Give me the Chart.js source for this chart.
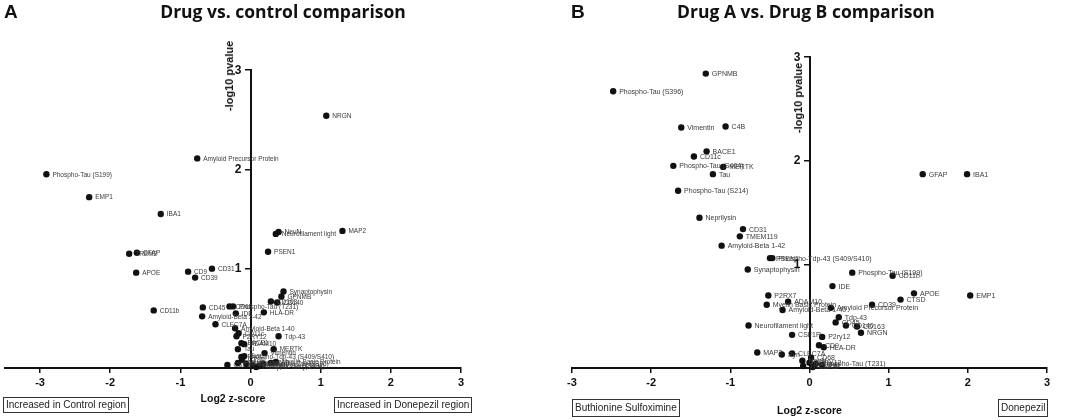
<!DOCTYPE html>
<html>
<head>
<meta charset="utf-8">
<script src="https://cdn.jsdelivr.net/npm/chart.js@4.4.1/dist/chart.umd.min.js"></script>
<style>
  html,body{margin:0;padding:0;background:#fff;}
  body{width:1072px;height:420px;position:relative;overflow:hidden;font-family:Arial,"Liberation Sans",sans-serif;color:#111;}
  .panel{position:absolute;top:0;width:536px;height:420px;}
  .panel canvas{position:absolute;left:0;top:0;}
  .letter{position:absolute;top:1px;font:bold 19px Arial,"Liberation Sans",sans-serif;}
  .title{position:absolute;top:-1px;font:bold 17.5px "Open Sans",sans-serif;white-space:nowrap;transform:translateX(-50%);}
  .ylab{position:absolute;font:bold 11px Arial,"Liberation Sans",sans-serif;white-space:nowrap;transform:translate(-50%,-50%) rotate(-90deg);}
  .box{position:absolute;border:1px solid #333;font:10px Arial,"Liberation Sans",sans-serif;line-height:14px;padding:0 2px;white-space:nowrap;color:#222;}
</style>
</head>
<body>
<div class="panel" style="left:0">
  <canvas id="chartA" width="536" height="420"></canvas>
</div>
<div class="panel" style="left:536px">
  <canvas id="chartB" width="536" height="420"></canvas>
</div>
<div class="letter" style="left:4px">A</div>
<div class="letter" style="left:571px">B</div>
<div class="title" style="left:283px">Drug vs. control comparison</div>
<div class="title" style="left:806px">Drug A vs. Drug B comparison</div>
<div class="ylab" style="left:229px;top:76px">-log10 pvalue</div>
<div class="ylab" style="left:798px;top:98px">-log10 pvalue</div>
<div class="box" style="left:3px;top:397px">Increased in Control region</div>
<div class="box" style="left:334px;top:397px">Increased in Donepezil region</div>
<div class="box" style="left:572px;top:399px;line-height:16px">Buthionine Sulfoximine</div>
<div class="box" style="left:998px;top:399px;line-height:16px">Donepezil</div>

<script>
const xTicks = [-3,-2,-1,0,1,2,3];
const yTicks = [0,1,2,3];

// panel A: drug vs control
const aNames = ["NRGN","Amyloid Precursor Protein","Phospho-Tau (S199)","EMP1","IBA1","MAP2","NeuN","Neurofilament light","PSEN1",
  "TREM2","GFAP","APOE","CD9","CD31","CD39","Synaptophysin","GPNMB","CD163","CD140","CD11b","CD45","CD68","Phospho-Tau (T231)",
  "HLA-DR","IDE","Amyloid-Beta 1-42","CLEC7A","Amyloid-Beta 1-40","Tdp-43","CD11c","P2RY12","BACE1","ADAM10","Tau","Vimentin",
  "MERTK","Phospho-Tdp-43 (S409/S410)","Syn","CSF1R","P2RX7","TMEM119","Neprilysin","Phospho-Tau (S396)","C4B","Myelin Basic Protein",
  "Phospho-Tau (S214)","CTSD","Phospho-Tau (S404)"];
const aX = [1.08,-0.76,-2.91,-2.30,-1.28,1.31,0.40,0.36,0.25,
  -1.73,-1.62,-1.63,-0.89,-0.55,-0.79,0.47,0.44,0.29,0.38,-1.38,-0.68,-0.30,-0.25,
  0.19,-0.21,-0.69,-0.50,-0.22,0.40,-0.17,-0.20,-0.13,-0.09,-0.18,0.20,
  0.33,-0.13,-0.09,-0.33,-0.18,-0.06,0.03,0.18,0.29,0.36,
  0.08,-0.12,0.12];
const aY = [2.54,2.11,1.95,1.72,1.55,1.38,1.37,1.35,1.17,
  1.15,1.16,0.96,0.97,1.00,0.91,0.77,0.72,0.67,0.66,0.58,0.61,0.62,0.62,
  0.56,0.55,0.52,0.44,0.40,0.32,0.35,0.32,0.25,0.24,0.19,0.15,
  0.19,0.11,0.12,0.03,0.05,0.04,0.03,0.04,0.05,0.06,
  0.01,0.08,0.02];

// panel B: drug A vs drug B
const bNames = ["GPNMB","Phospho-Tau (S396)","Vimentin","C4B","BACE1","CD11c","Phospho-Tau (S404)","MERTK","Tau","Phospho-Tau (S214)",
  "GFAP","IBA1","Neprilysin","CD31","TMEM119","Amyloid-Beta 1-42","PSEN1","Phospho-Tdp-43 (S409/S410)","Synaptophysin",
  "Phospho-Tau (S199)","CD11b","IDE","APOE","EMP1","CTSD","P2RX7","ADAM10","Myelin Basic Protein","Amyloid-Beta 1-40","CD39",
  "Amyloid Precursor Protein","Tdp-43","CD45","CD140","CD163","NRGN","Neurofilament light","CSF1R","P2ry12","CD9","HLA-DR",
  "MAP2","Syn","CLEC7A","NeuN","CD68","TREM2","Phospho-Tau (T231)","P2RY12","Tdp","CDK5"];
const bX = [-1.31,-2.48,-1.62,-1.06,-1.30,-1.46,-1.72,-1.09,-1.22,-1.66,
  1.43,1.99,-1.39,-0.84,-0.88,-1.11,-0.50,-0.47,-0.78,
  0.54,1.05,0.29,1.32,2.03,1.15,-0.52,-0.27,-0.54,-0.34,0.79,
  0.27,0.37,0.33,0.46,0.60,0.65,-0.77,-0.22,0.16,0.12,0.18,
  -0.66,-0.35,-0.22,-0.09,0.02,-0.08,0.08,0.00,0.16,0.04];
const bY = [2.84,2.67,2.32,2.33,2.09,2.04,1.95,1.94,1.87,1.71,
  1.87,1.87,1.45,1.34,1.27,1.18,1.06,1.06,0.95,
  0.92,0.89,0.79,0.72,0.70,0.66,0.70,0.64,0.61,0.56,0.61,
  0.58,0.49,0.44,0.41,0.40,0.34,0.41,0.32,0.30,0.22,0.20,
  0.15,0.13,0.14,0.07,0.10,0.02,0.04,0.05,0.03,0.01];

const pointLabels = {
  id:'pointLabels',
  afterDatasetsDraw(chart, args, opts){
    const ctx = chart.ctx;
    const meta = chart.getDatasetMeta(0);
    const names = chart.data.datasets[0].names;
    ctx.save();
    ctx.font = opts.font; ctx.fillStyle = opts.color; ctx.textBaseline = 'middle'; ctx.textAlign = 'left';
    meta.data.forEach((pt,i)=> ctx.fillText(names[i], pt.x + 6, pt.y + 0.5));
    ctx.restore();
  }
};

// y tick labels sit to the left of the centred axis
const yTickLabels = {
  id:'yTickLabels',
  afterDraw(chart, args, opts){
    const {ctx, scales:{x, y}} = chart;
    const ax = x.getPixelForValue(0);
    ctx.save();
    ctx.font = 'bold 12px Arial'; ctx.fillStyle = '#111'; ctx.textAlign = 'right'; ctx.textBaseline = 'middle';
    yTicks.filter(v=>v!==0).forEach(v=> ctx.fillText(String(v), ax - opts.gap, y.getPixelForValue(v) + 0.5));
    ctx.restore();
  }
};

function volcano(canvas, names, xs, ys, cfg){
  const pts = xs.map((x,i)=>({x, y:ys[i]}));
  return new Chart(canvas, {
    type:'scatter',
    data:{datasets:[{data:pts, names, pointRadius:3.2, pointBackgroundColor:'#111', pointBorderWidth:0, clip:false}]},
    plugins:[pointLabels, yTickLabels],
    options:{
      responsive:false, animation:false, events:[],
      layout:{padding:cfg.padding},
      plugins:{legend:{display:false}, tooltip:{enabled:false},
        pointLabels:{font:cfg.labelFont, color:'#3a3a3a'}, yTickLabels:{gap:cfg.yGap}},
      scales:{
        x:{type:'linear', min:cfg.xMin, max:3, position:'bottom',
          afterBuildTicks: s=>{ s.ticks = xTicks.map(v=>({value:v})); },
          afterFit: s=>{ s.height = 52; },
          grid:{drawOnChartArea:false, drawTicks:true, tickLength:5, color:'#111', lineWidth:1.5},
          border:{color:'#111', width:2},
          ticks:{color:'#111', font:{family:'Arial', size:11, weight:'bold'}, padding:3, autoSkip:false, maxRotation:0},
          title:{display:true, text:'Log2 z-score', color:'#111', font:{family:'Arial', size:10.5, weight:'bold'}, padding:{top:0, bottom:cfg.titlePad}}
        },
        y:{type:'linear', min:0, max:3, position:{x:0},
          afterBuildTicks: s=>{ s.ticks = yTicks.map(v=>({value:v})); },
          grid:{drawOnChartArea:false, drawTicks:true, tickLength:5, color:'#111', lineWidth:1.5},
          border:{color:'#111', width:2},
          ticks:{display:false}
        }
      }
    }
  });
}

volcano(document.getElementById('chartA'), aNames, aX, aY,
  {xMin:-3.5, padding:{left:5, right:75, top:70, bottom:0}, titlePad:15, labelFont:'6.5px Arial', yGap:9});
volcano(document.getElementById('chartB'), bNames, bX, bY,
  {xMin:-3, padding:{left:36, right:25, top:57, bottom:0}, titlePad:3, labelFont:'7px Arial', yGap:9});
</script>
</body>
</html>
